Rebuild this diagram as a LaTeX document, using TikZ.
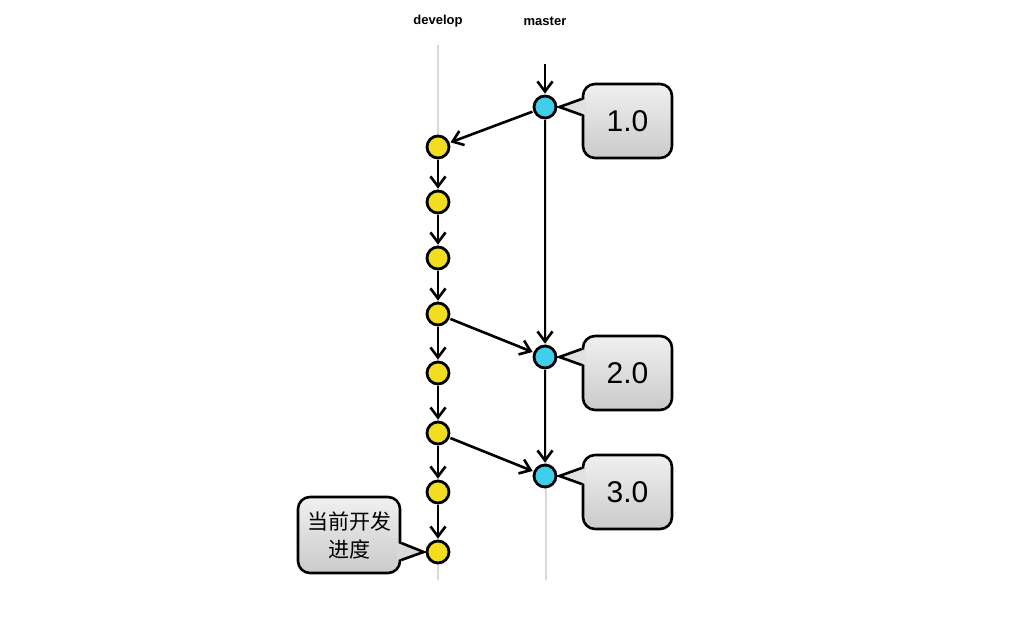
\documentclass[tikz,border=0pt]{standalone}
\usepackage{fontspec}
\setmainfont{Liberation Sans}
\newfontfamily\cjk{Noto Sans CJK SC}
\usetikzlibrary{arrows.meta,calc}
\definecolor{cyellow}{HTML}{F2DE1E}
\definecolor{cblue}{HTML}{3FCFEA}
\definecolor{lanegray}{HTML}{D9D9D9}
\definecolor{boxtop}{HTML}{F0F0F0}
\definecolor{boxbot}{HTML}{CACACA}
\tikzset{
  commit/.style={circle,draw=black,line width=2.8pt,minimum size=22pt,inner sep=0pt},
  dev/.style={commit,fill=cyellow},
  mst/.style={commit,fill=cblue},
  lane/.style={draw=lanegray,line width=2.5pt},
  flow/.style={-{Straight Barb[length=10pt,width=15pt,line width=2.6pt]},line width=2.6pt,shorten >=1pt,shorten <=1pt},
  tagbox/.style={draw=black,line width=2.6pt,rounded corners=12pt,top color=boxtop,bottom color=boxbot,minimum width=89pt,minimum height=74pt,inner sep=0pt,font=\fontsize{30}{32}\selectfont},
  lanelabel/.style={font=\bfseries\fontsize{13}{15}\selectfont},
  pointerline/.style={line width=2.6pt,line join=miter},
}
\begin{document}
\begin{tikzpicture}[x=1pt,y=-1pt]
\useasboundingbox (0,0) rectangle (1030,617);
% lanes
\coordinate (dtop) at (438,45);
\coordinate (dbot) at (438,580);
\coordinate (mtop) at (546,100);
\coordinate (mbot) at (546,580);
\draw[lane] (dtop) -- (dbot);
\draw[lane] (mtop) -- (mbot);
% labels
\node[lanelabel] (ldev) at (438,21) {develop};
\node[lanelabel] (lmas) at (545,21) {master};
% commits
\node[mst] (m1) at (545,107) {};
\node[mst] (m2) at (545,357) {};
\node[mst] (m3) at (545,476) {};
\node[dev] (d1) at (438,147) {};
\node[dev] (d2) at (438,202) {};
\node[dev] (d3) at (438,258) {};
\node[dev] (d4) at (438,314) {};
\node[dev] (d5) at (438,373) {};
\node[dev] (d6) at (438,433) {};
\node[dev] (d7) at (438,492) {};
\node[dev] (d8) at (438,552) {};
% arrows
\coordinate (mstart) at (545,63);
\draw[flow] (mstart) -- (m1);
\draw[flow] (m1) -- (m2);
\draw[flow] (m2) -- (m3);
\draw[flow] (m1) -- (d1);
\draw[flow] (d1) -- (d2);
\draw[flow] (d2) -- (d3);
\draw[flow] (d3) -- (d4);
\draw[flow] (d4) -- (d5);
\draw[flow] (d5) -- (d6);
\draw[flow] (d6) -- (d7);
\draw[flow] (d7) -- (d8);
\draw[flow] (d4) -- (m2);
\draw[flow] (d6) -- (m3);
% tags
\newcommand{\tagcallout}[4]{%
  \node[tagbox] (#1) at (#2) {#3};
  \fill[boxtop!60!boxbot] ($(#1.west|-#4)+(4,-8)$) -- ($(#4.east)+(2,0)$) -- ($(#1.west|-#4)+(4,8)$) -- cycle;
  \draw[pointerline] ($(#1.west|-#4)+(0,-8)$) -- ($(#4.east)+(2,0)$) -- ($(#1.west|-#4)+(0,8)$);
}
\tagcallout{t1}{627.5,121}{1.0}{m1}
\tagcallout{t2}{627.5,373}{2.0}{m2}
\tagcallout{t3}{627.5,492}{3.0}{m3}
% current progress
\node[tagbox,minimum width=102pt,minimum height=76pt,align=center,font=\cjk\fontsize{21}{28}\selectfont] (cur) at (349,535) {当前开发\\进度};
\fill[boxtop!40!boxbot] ($(cur.east|-d8)+(-4,-9)$) -- ($(d8.west)+(-2,0)$) -- ($(cur.east|-d8)+(-4,8)$) -- cycle;
\draw[pointerline] ($(cur.east|-d8)+(0,-9)$) -- ($(d8.west)+(-2,0)$) -- ($(cur.east|-d8)+(0,8)$);
\end{tikzpicture}
\end{document}
